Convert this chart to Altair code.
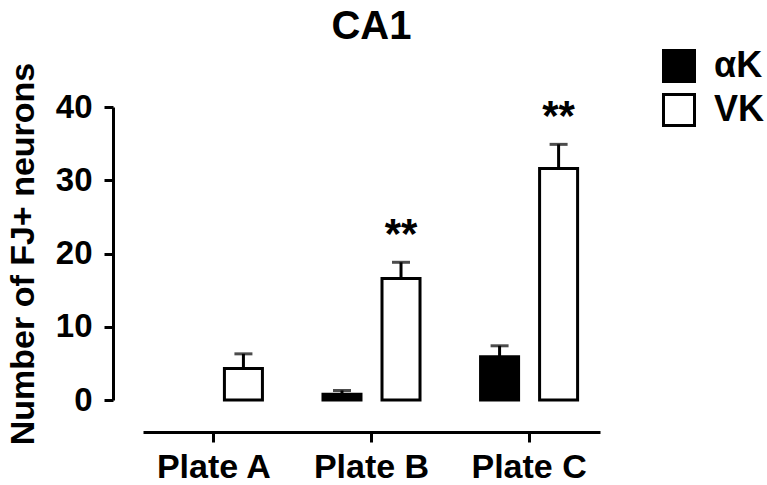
import altair as alt
import pandas as pd

# Fluoro-Jade positive neuron counts in CA1 (mean and SEM per plate)
plates = ["Plate A", "Plate B", "Plate C"]
groups = ["αK", "VK"]
ak_mean = [0.0, 0.8, 5.9]
ak_sem = [0.0, 0.5, 1.5]
vk_mean = [4.3, 16.6, 31.6]
vk_sem = [2.0, 2.2, 3.3]
vk_sig = ["", "**", "**"]

rows = []
for i, p in enumerate(plates):
    rows.append({"plate": p, "group": groups[0], "mean": ak_mean[i],
                 "upper": ak_mean[i] + ak_sem[i], "sig": ""})
    rows.append({"plate": p, "group": groups[1], "mean": vk_mean[i],
                 "upper": vk_mean[i] + vk_sem[i], "sig": vk_sig[i]})
df = pd.DataFrame(rows)

FONT = "Liberation Sans"

x_enc = alt.X("plate:N", sort=plates,
              scale=alt.Scale(paddingInner=0.2, paddingOuter=0.05),
              axis=alt.Axis(title=None, offset=32, labelAngle=0,
                            domainColor="black", domainWidth=3,
                            tickColor="black", tickWidth=3, tickSize=10,
                            labelFontSize=34, labelFontWeight="bold",
                            labelColor="black", labelPadding=8))
xo_enc = alt.XOffset("group:N", sort=groups,
                     scale=alt.Scale(paddingInner=0.356, paddingOuter=0.246))
y_scale = alt.Scale(domain=[0, 40], nice=False)
y_axis = alt.Axis(values=[0, 10, 20, 30, 40], title="Number of FJ+ neurons",
                  offset=30, grid=False,
                  domainColor="black", domainWidth=3,
                  tickColor="black", tickWidth=3, tickSize=9,
                  labelFontSize=33, labelFontWeight="bold", labelColor="black",
                  labelPadding=12, titleFontSize=34, titleFontWeight="bold",
                  titleColor="black", titlePadding=15)

base = alt.Chart(df)

bars = base.transform_filter("datum.mean > 0").mark_bar(
    stroke="black", strokeWidth=3
).encode(
    x=x_enc,
    xOffset=xo_enc,
    y=alt.Y("mean:Q", scale=y_scale, axis=y_axis),
    fill=alt.Fill("group:N", sort=groups,
                  scale=alt.Scale(domain=groups, range=["black", "white"]),
                  legend=alt.Legend(orient="none", legendX=518, legendY=-59,
                                    title=None, symbolType="square",
                                    symbolSize=961, symbolStrokeColor="black",
                                    symbolStrokeWidth=3, labelFontSize=36,
                                    labelFontWeight="bold", labelColor="black",
                                    labelOffset=17, rowPadding=0, padding=0)),
)

err = base.transform_filter("datum.upper > datum.mean").mark_rule(
    color="black", strokeWidth=3
).encode(
    x=x_enc, xOffset=xo_enc,
    y=alt.Y("mean:Q", scale=y_scale), y2="upper:Q",
)

caps = base.transform_filter("datum.upper > datum.mean").mark_tick(
    color="black", size=18, thickness=3
).encode(
    x=x_enc, xOffset=xo_enc,
    y=alt.Y("upper:Q", scale=y_scale),
)

stars = base.transform_filter("datum.sig != ''").mark_text(
    fontSize=42, fontWeight="bold", color="black",
    baseline="alphabetic", dy=-14
).encode(
    x=x_enc, xOffset=xo_enc,
    y=alt.Y("upper:Q", scale=y_scale),
    text="sig:N",
)

chart = alt.layer(bars, err, caps, stars).properties(
    width=457, height=293,
    padding={"left": 143, "top": 107, "right": 167, "bottom": 85},
    autosize=alt.AutoSizeParams(type="none"),
    title=alt.TitleParams("CA1", fontSize=40, fontWeight="bold",
                          anchor="middle", frame="group", color="black",
                          dy=3),
).configure(font=FONT).configure_view(strokeWidth=0)

chart.save("out.html", embed_options={"renderer": "svg", "actions": False})
